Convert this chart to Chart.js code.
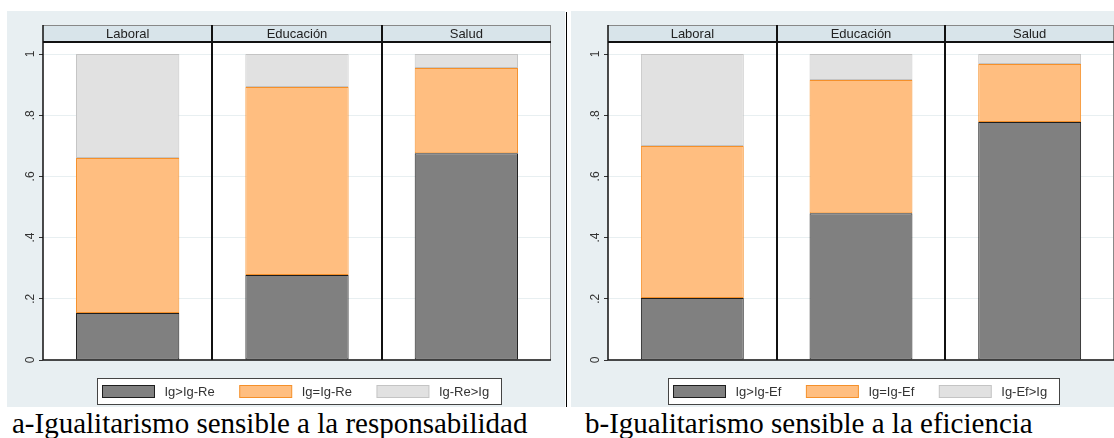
<!DOCTYPE html>
<html>
<head>
<meta charset="utf-8">
<script src="https://cdn.jsdelivr.net/npm/chart.js@4.4.1/dist/chart.umd.min.js"></script>
<style>
  body { margin: 0; background: #fff; width: 1114px; height: 438px; overflow: hidden; position: relative; }
  .panel { position: absolute; top: 11px; height: 396px; background: #e8eff2; }
  #panelA { left: 7px; width: 558px; }
  #panelB { left: 571px; width: 543px; }
  #sep { position: absolute; left: 566px; top: 12px; width: 1px; height: 395px; background: #000; }
  .caption { position: absolute; top: 409px; font-family: "Liberation Serif", "Times New Roman", serif;
             font-size: 29px; line-height: 29px; color: #000; white-space: nowrap; }
</style>
</head>
<body>
<div class="panel" id="panelA"><canvas id="chartRe" width="558" height="396"></canvas></div>
<div id="sep"></div>
<div class="panel" id="panelB"><canvas id="chartEf" width="543" height="396"></canvas></div>
<div class="caption" style="left:12px">a-Igualitarismo sensible a la responsabilidad</div>
<div class="caption" style="left:585px">b-Igualitarismo sensible a la eficiencia</div>
<script>
const facets = ['Laboral', 'Educación', 'Salud'];
const yTicks = [0, 0.2, 0.4, 0.6, 0.8, 1];
const yTickLabels = ['0', '.2', '.4', '.6', '.8', '1'];

// a: responsabilidad
const labelsRe = ['Ig>Ig-Re', 'Ig=Ig-Re', 'Ig-Re>Ig'];
const reMayor = [0.154, 0.278, 0.676];
const reIgual = [0.506, 0.614, 0.278];
const reMenor = [0.340, 0.108, 0.046];

// b: eficiencia
const labelsEf = ['Ig>Ig-Ef', 'Ig=Ig-Ef', 'Ig-Ef>Ig'];
const efMayor = [0.203, 0.480, 0.778];
const efIgual = [0.496, 0.435, 0.189];
const efMenor = [0.301, 0.085, 0.033];

const fills = ['#808080', '#ffbe80', '#e1e1e1'];
const edges = ['#1e1e1e', '#f5902a', '#c4c4c4'];

function drawLegend(chart) {
  const { ctx, chartArea: a } = chart;
  const ds = chart.data.datasets;
  ctx.save();
  ctx.font = '13px Arial';
  const widths = ds.map(d => ctx.measureText(d.label).width);
  const sw = 52, sh = 12, gap = 10, colGap = 25;
  const pitch = sw + gap + Math.max(...widths) + colGap;
  const inner = pitch * (ds.length - 1) + sw + gap + widths[widths.length - 1];
  const boxW = Math.round(inner + 17);
  const bx = Math.round((a.left + a.right) / 2 + 2 - boxW / 2) + 0.5;
  const by = Math.round(a.bottom + 18) + 0.5, bh = 26;
  ctx.fillStyle = '#fff';
  ctx.fillRect(bx, by, boxW, bh);
  ctx.strokeStyle = '#444';
  ctx.lineWidth = 1;
  ctx.strokeRect(bx, by, boxW, bh);
  ctx.textBaseline = 'middle';
  ctx.textAlign = 'left';
  ds.forEach((d, i) => {
    const x = bx + 5 + i * pitch;
    ctx.fillStyle = d.backgroundColor;
    ctx.fillRect(x, by + 7, sw, sh);
    ctx.strokeStyle = d.borderColor;
    ctx.strokeRect(x, by + 7, sw, sh);
    ctx.fillStyle = '#333';
    ctx.fillText(d.label, x + sw + gap, by + 13.5);
  });
  ctx.restore();
}

const facetPlugin = {
  id: 'facets',
  beforeDraw(chart) {
    const { ctx, chartArea: a } = chart;
    ctx.save();
    ctx.fillStyle = '#fff';
    ctx.fillRect(a.left, a.top, a.right - a.left, a.bottom - a.top);
    ctx.restore();
  },
  afterDatasetsDraw(chart) {
    const { ctx, chartArea: a, scales: { x } } = chart;
    const hTop = a.top - 18;
    const bounds = [];
    for (let i = 0; i < facets.length - 1; i++) {
      bounds.push(Math.round((x.getPixelForValue(i) + x.getPixelForValue(i + 1)) / 2));
    }
    ctx.save();
    // strip headers
    ctx.fillStyle = '#d8e4ea';
    ctx.fillRect(a.left, hTop, a.right - a.left, a.top - hTop);
    ctx.strokeStyle = '#888';
    ctx.lineWidth = 1;
    ctx.beginPath();
    ctx.moveTo(a.left, hTop + 0.5); ctx.lineTo(a.right, hTop + 0.5);
    ctx.moveTo(a.right - 0.5, hTop); ctx.lineTo(a.right - 0.5, a.bottom);
    ctx.stroke();
    ctx.font = '13px Arial';
    ctx.fillStyle = '#222';
    ctx.textAlign = 'center';
    ctx.textBaseline = 'middle';
    facets.forEach((f, i) => ctx.fillText(f, x.getPixelForValue(i), (hTop + a.top) / 2));
    // strip bottom, facet dividers, axes
    ctx.strokeStyle = '#111';
    ctx.lineWidth = 2;
    ctx.beginPath();
    ctx.moveTo(a.left, a.top - 1); ctx.lineTo(a.right, a.top - 1);
    bounds.forEach(b => { ctx.moveTo(b, hTop); ctx.lineTo(b, a.bottom); });
    ctx.stroke();
    ctx.lineWidth = 1.5;
    ctx.beginPath();
    ctx.moveTo(a.left, hTop); ctx.lineTo(a.left, a.bottom);
    ctx.moveTo(a.left, a.bottom); ctx.lineTo(a.right, a.bottom);
    ctx.stroke();
    ctx.restore();
  },
  afterDraw(chart) {
    drawLegend(chart);
  }
};

function makeChart(id, labels, series, axisWidth, rightPad) {
  return new Chart(document.getElementById(id), {
    type: 'bar',
    data: {
      labels: facets,
      datasets: series.map((d, i) => ({
        label: labels[i],
        data: d,
        backgroundColor: fills[i],
        borderColor: edges[i],
        borderWidth: 1,
        borderSkipped: false,
        categoryPercentage: 1,
        barPercentage: 0.61
      }))
    },
    options: {
      responsive: false,
      animation: false,
      layout: { padding: { top: 32, right: rightPad, bottom: 47, left: 0 } },
      plugins: { legend: { display: false }, tooltip: { enabled: false } },
      scales: {
        x: { stacked: true, display: false },
        y: {
          stacked: true,
          min: 0,
          max: 1.036,
          afterBuildTicks: s => { s.ticks = yTicks.map(v => ({ value: v })); },
          afterFit: s => { s.width = axisWidth; },
          grid: { color: '#e8eff1', tickLength: 4, tickColor: '#333', drawTicks: true },
          border: { display: false },
          ticks: {
            minRotation: 90,
            maxRotation: 90,
            crossAlign: 'center',
            padding: 3,
            color: '#333',
            font: { family: 'Arial', size: 12 },
            callback: (v, i) => yTickLabels[i]
          }
        }
      }
    },
    plugins: [facetPlugin]
  });
}

makeChart('chartRe', labelsRe, [reMayor, reIgual, reMenor], 36, 14);
makeChart('chartEf', labelsEf, [efMayor, efIgual, efMenor], 37, 0);
</script>
</body>
</html>
